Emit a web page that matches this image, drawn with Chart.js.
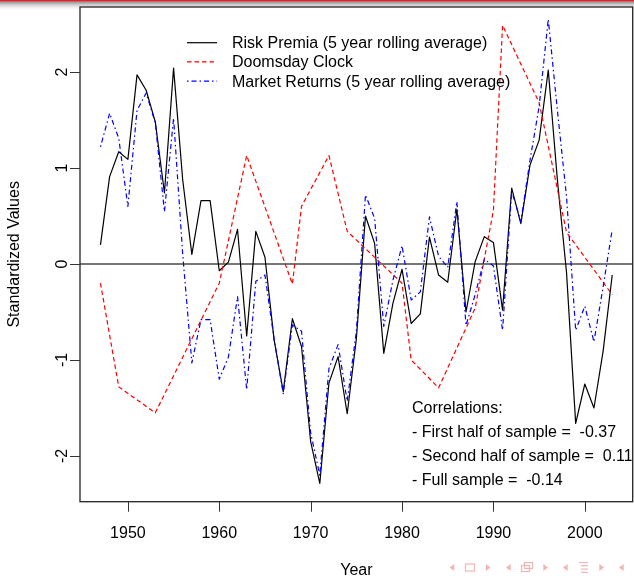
<!DOCTYPE html>
<html>
<head>
<meta charset="utf-8">
<style>
  html, body { margin: 0; padding: 0; background: #fff; overflow: hidden; }
  canvas { display: block; }
</style>
<script src="https://cdn.jsdelivr.net/npm/chart.js@4/dist/chart.umd.min.js"></script>
</head>
<body>
<canvas id="chart" width="634" height="578"></canvas>
<script>
// Yearly observations, 1947-2003
const years = [
  1947, 1948, 1949, 1950, 1951, 1952, 1953, 1954, 1955, 1956,
  1957, 1958, 1959, 1960, 1961, 1962, 1963, 1964, 1965, 1966,
  1967, 1968, 1969, 1970, 1971, 1972, 1973, 1974, 1975, 1976,
  1977, 1978, 1979, 1980, 1981, 1982, 1983, 1984, 1985, 1986,
  1987, 1988, 1989, 1990, 1991, 1992, 1993, 1994, 1995, 1996,
  1997, 1998, 1999, 2000, 2001, 2002, 2003
];

// Risk premia, 5 year rolling average (standardized)
const riskPremia = [
  0.20, 0.91, 1.17, 1.09, 1.97, 1.81, 1.48, 0.74, 2.04, 0.875,
  0.10, 0.66, 0.66, -0.07, 0.02, 0.36, -0.75, 0.34, 0.07, -0.79,
  -1.33, -0.57, -0.86, -1.85, -2.285, -1.24, -0.965, -1.56, -0.78, 0.50,
  0.215, -0.93, -0.41, -0.055, -0.62, -0.52, 0.28, -0.115, -0.19, 0.57,
  -0.50, 0.025, 0.285, 0.225, -0.48, 0.79, 0.42, 1.03, 1.29, 2.02,
  0.875, -0.09, -1.66, -1.25, -1.50, -0.91, -0.115
];

// Market returns, 5 year rolling average (standardized)
const marketReturns = [
  1.22, 1.57, 1.31, 0.60, 1.60, 1.78, 1.47, 0.545, 1.52, 0.10,
  -1.03, -0.58, -0.58, -1.20, -0.97, -0.34, -1.31, -0.18, -0.115, -0.78,
  -1.35, -0.635, -0.70, -1.76, -2.20, -1.09, -0.84, -1.43, -0.70, 0.72,
  0.475, -0.65, -0.17, 0.19, -0.375, -0.29, 0.49, 0.08, -0.035, 0.65,
  -0.64, -0.32, 0.05, -0.02, -0.69, 0.76, 0.44, 1.08, 1.64, 2.55,
  1.60, 0.70, -0.69, -0.44, -0.81, -0.24, 0.36
];

// Doomsday Clock (standardized), one point per setting change
const clockYears  = [1947, 1949, 1953, 1960, 1963, 1968, 1969, 1972, 1974, 1980,
                     1981, 1984, 1988, 1990, 1991, 1995, 1998, 2002, 2003];
const clockValues = [-0.20, -1.28, -1.55, -0.20, 1.13, -0.21, 0.60, 1.13, 0.34, -0.20,
                     -1.00, -1.29, -0.46, 0.56, 2.486, 1.68, 0.33, -0.19, -0.32];

const xTicks = [1950, 1960, 1970, 1980, 1990, 2000];
const yTicks = [-2, -1, 0, 1, 2];

const correlationLines = [
  "Correlations:",
  "- First half of sample =  -0.37",
  "- Second half of sample =  0.11",
  "- Full sample =  -0.14"
];

const FONT = '16px "Liberation Sans", Arial, Helvetica, sans-serif';

const toPoints = (xs, ys) => xs.map((x, i) => ({ x: x, y: ys[i] }));

// Frame, axes, legend, notes and slide decorations drawn around the plot
const decor = {
  id: 'decor',
  beforeDraw(chart) {
    const ctx = chart.ctx, a = chart.chartArea, W = chart.width;
    ctx.save();
    ctx.fillStyle = '#fff';
    ctx.fillRect(0, 0, W, chart.height);
    // slide header shadow
    const g = ctx.createLinearGradient(0, 1.5, 0, 11);
    g.addColorStop(0, '#8a8a8a');
    g.addColorStop(1, 'rgba(255,255,255,0)');
    ctx.fillStyle = g;
    ctx.fillRect(0, 1.5, W, 9.5);
    ctx.fillStyle = '#d8262b';
    ctx.fillRect(0, 0, W, 1.6);
    ctx.fillStyle = '#fff';
    ctx.fillRect(a.left, a.top, a.right - a.left, a.bottom - a.top);
    ctx.restore();
  },
  beforeDatasetsDraw(chart) {
    const ctx = chart.ctx, a = chart.chartArea, y = chart.scales.y;
    ctx.save();
    ctx.strokeStyle = '#767676';
    ctx.lineWidth = 2;
    const y0 = y.getPixelForValue(0);
    ctx.beginPath();
    ctx.moveTo(a.left, y0);
    ctx.lineTo(a.right, y0);
    ctx.stroke();
    ctx.restore();
  },
  afterDraw(chart) {
    const ctx = chart.ctx, a = chart.chartArea;
    const xs = chart.scales.x, ys = chart.scales.y;
    ctx.save();
    ctx.strokeStyle = '#222';
    ctx.lineWidth = 1.3;
    ctx.strokeRect(a.left, a.top, a.right - a.left, a.bottom - a.top);

    ctx.fillStyle = '#000';
    ctx.font = FONT;
    ctx.textAlign = 'center';
    ctx.textBaseline = 'middle';
    // x axis
    ctx.strokeStyle = '#333';
    ctx.lineWidth = 1;
    xTicks.forEach(v => {
      const px = Math.round(xs.getPixelForValue(v)) + 0.5;
      ctx.beginPath();
      ctx.moveTo(px, a.bottom);
      ctx.lineTo(px, a.bottom + 10);
      ctx.stroke();
      ctx.fillText(String(v), xs.getPixelForValue(v), 533.5);
    });
    ctx.fillText('Year', (a.left + a.right) / 2, 571);
    // y axis
    yTicks.forEach(v => {
      const py = Math.round(ys.getPixelForValue(v)) + 0.5;
      ctx.beginPath();
      ctx.moveTo(a.left, py);
      ctx.lineTo(a.left - 10, py);
      ctx.stroke();
      ctx.save();
      ctx.translate(63, ys.getPixelForValue(v));
      ctx.rotate(-Math.PI / 2);
      ctx.fillText(String(v), 0, 0);
      ctx.restore();
    });
    ctx.save();
    ctx.translate(15, (a.top + a.bottom) / 2);
    ctx.rotate(-Math.PI / 2);
    ctx.fillText('Standardized Values', 0, 0);
    ctx.restore();

    // legend
    ctx.textAlign = 'left';
    chart.data.datasets.forEach((ds, i) => {
      const yy = 42.7 + i * 19.2;
      ctx.save();
      ctx.strokeStyle = ds.borderColor;
      ctx.lineWidth = ds.borderWidth;
      ctx.setLineDash(ds.borderDash || []);
      ctx.beginPath();
      ctx.moveTo(187, yy);
      ctx.lineTo(217, yy);
      ctx.stroke();
      ctx.restore();
      ctx.fillText(ds.label, 232, yy + 1);
    });

    // correlation notes, clipped to the plot region
    ctx.save();
    ctx.beginPath();
    ctx.rect(a.left, a.top, a.right - a.left - 1, a.bottom - a.top);
    ctx.clip();
    correlationLines.forEach((t, i) => {
      ctx.fillText(t, 412, 409 + i * 23.7);
    });
    ctx.restore();

    // slide navigation symbols
    ctx.strokeStyle = '#f6b3b3';
    ctx.fillStyle = '#f6b3b3';
    ctx.lineWidth = 1.2;
    const cy = 567.5;
    const triL = x => { ctx.beginPath(); ctx.moveTo(x + 2.2, cy - 3.5); ctx.lineTo(x - 2.5, cy); ctx.lineTo(x + 2.2, cy + 3.5); ctx.closePath(); ctx.fill(); };
    const triR = x => { ctx.beginPath(); ctx.moveTo(x - 2.2, cy - 3.5); ctx.lineTo(x + 2.5, cy); ctx.lineTo(x - 2.2, cy + 3.5); ctx.closePath(); ctx.fill(); };
    triL(452); 
    ctx.strokeRect(465.5, cy - 3.5, 9, 7);
    triR(488);
    triL(508.5);
    ctx.strokeRect(521.5, cy - 2, 8, 6);
    ctx.strokeRect(524.5, cy - 5, 8, 6);
    triR(545.5);
    triL(565.5);
    for (let k = 0; k < 4; k++) {
      ctx.beginPath();
      ctx.moveTo(579 + (k === 0 ? 0 : 2), cy - 5 + k * 3.3);
      ctx.lineTo(588, cy - 5 + k * 3.3);
      ctx.stroke();
    }
    triR(601.5);
    triL(621.5);
    ctx.restore();
  }
};

new Chart(document.getElementById('chart').getContext('2d'), {
  type: 'line',
  data: {
    datasets: [
      {
        label: 'Risk Premia (5 year rolling average)',
        data: toPoints(years, riskPremia),
        borderColor: '#000000',
        borderWidth: 1.2,
        order: 3
      },
      {
        label: 'Doomsday Clock',
        data: toPoints(clockYears, clockValues),
        borderColor: '#ff0000',
        borderWidth: 1.2,
        borderDash: [4.5, 3],
        order: 2
      },
      {
        label: 'Market Returns (5 year rolling average)',
        data: toPoints(years, marketReturns),
        borderColor: '#0000ff',
        borderWidth: 1.2,
        borderDash: [1.5, 3, 5, 3],
        order: 1
      }
    ]
  },
  options: {
    responsive: false,
    animation: false,
    devicePixelRatio: 1,
    layout: { padding: { left: 80, right: 1.3, top: 7, bottom: 76.3 } },
    elements: {
      point: { radius: 0, hoverRadius: 0 },
      line: { tension: 0, fill: false, borderJoinStyle: 'round' }
    },
    plugins: { legend: { display: false }, tooltip: { enabled: false } },
    scales: {
      x: { type: 'linear', min: 1944.76, max: 2005.24, display: false },
      y: { type: 'linear', min: -2.476, max: 2.677, display: false }
    }
  },
  plugins: [decor]
});
</script>
</body>
</html>
